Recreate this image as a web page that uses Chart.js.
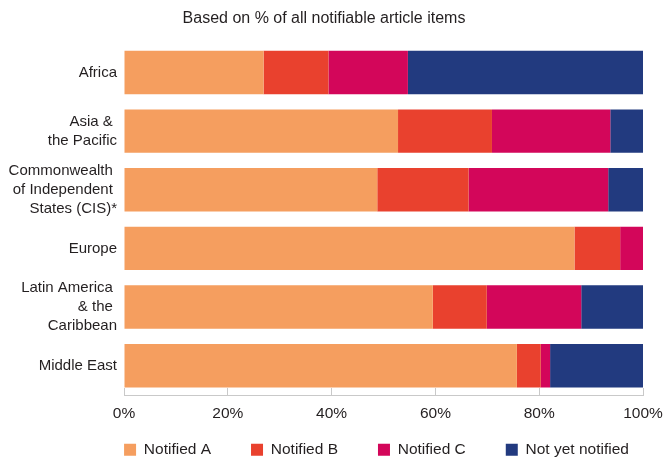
<!DOCTYPE html>
<html>
<head>
<meta charset="utf-8">
<script src="https://cdn.jsdelivr.net/npm/chart.js@4/dist/chart.umd.min.js"></script>
<style>
  html, body { margin: 0; padding: 0; background: #fff; }
  #wrap { width: 665px; height: 462px; }
</style>
</head>
<body>
<div id="wrap"><canvas id="c" width="665" height="462"></canvas></div>
<script>
// Regions, shown top to bottom (multi-line labels as arrays)
const regions = [
  'Africa',
  ['Asia & ', 'the Pacific'],
  ['Commonwealth ', 'of Independent ', 'States (CIS)*'],
  'Europe',
  ['Latin America ', '& the ', 'Caribbean'],
  'Middle East'
];

// Share of notifiable article items (%) per status
const notifiedA = [26.9, 52.8, 48.8, 86.8, 59.5, 75.7];
const notifiedB = [12.5, 18.1, 17.6,  8.8, 10.4,  4.6];
const notifiedC = [15.3, 22.8, 26.9,  4.4, 18.2,  1.8];
const notYet    = [45.3,  6.3,  6.7,  0.0, 11.9, 17.9];

const xTicks = [0, 20, 40, 60, 80, 100];

const FONT = 'Liberation Sans, Arial, Helvetica, sans-serif';
const TEXT = '#231f20';
const AXIS = '#c9c9c9';

// Place the legend row centred under the plot area, just below the tick labels
const legendUnderPlot = {
  id: 'legendUnderPlot',
  beforeDraw(chart) {
    const lg = chart.legend;
    if (!lg) return;
    const ca = chart.chartArea;
    const shift = (ca.left + ca.right) / 2 - 7 - (lg.left + lg.right) / 2;
    lg.left += shift;
    lg.right += shift;
    lg.top = 442 - lg.options.labels.padding;
  }
};

new Chart(document.getElementById('c'), {
  type: 'bar',
  data: {
    labels: regions,
    datasets: [
      { label: 'Notified A', data: notifiedA, backgroundColor: '#f59e5f' },
      { label: 'Notified B', data: notifiedB, backgroundColor: '#e9412e' },
      { label: 'Notified C', data: notifiedC, backgroundColor: '#d3065a' },
      { label: 'Not yet notified', data: notYet, backgroundColor: '#223a7f' }
    ]
  },
  options: {
    indexAxis: 'y',
    responsive: false,
    animation: false,
    devicePixelRatio: 1,
    layout: { padding: { left: 0, right: 17, top: 0, bottom: 0 } },
    datasets: {
      bar: { categoryPercentage: 0.74, barPercentage: 1.0, borderWidth: 0 }
    },
    scales: {
      x: {
        stacked: true,
        min: 0,
        max: 100,
        afterBuildTicks(axis) { axis.ticks = xTicks.map(v => ({ value: v })); },
        afterFit(axis) {
          axis.height = 27;
          // room for the half-width of the "100%" label only
          axis.paddingLeft = 0;
          axis.paddingRight = 22;
        },
        ticks: {
          callback: v => v + '%',
          color: TEXT,
          font: { family: FONT, size: 15.5 },
          padding: 16,
          maxRotation: 0
        },
        // short tick marks pointing up from the axis line
        grid: { drawOnChartArea: false, drawTicks: true, tickLength: -7, color: AXIS, lineWidth: 1 },
        border: { display: true, color: AXIS, width: 1 }
      },
      y: {
        stacked: true,
        afterFit(axis) { axis.width = 124; },
        ticks: {
          autoSkip: false,
          color: TEXT,
          font: { family: FONT, size: 15, lineHeight: 1.27 },
          padding: 7
        },
        grid: { display: false, drawTicks: false },
        border: { display: false }
      }
    },
    plugins: {
      title: {
        display: true,
        text: 'Based on % of all notifiable article items',
        color: TEXT,
        font: { family: FONT, size: 16, weight: 'normal', lineHeight: 1.2 },
        padding: { top: 9, bottom: 15 }
      },
      legend: {
        position: 'bottom',
        maxHeight: 40,
        labels: {
          color: TEXT,
          font: { family: FONT, size: 15.5 },
          boxWidth: 12,
          boxHeight: 12,
          padding: 40
        }
      },
      tooltip: { enabled: false }
    }
  },
  plugins: [legendUnderPlot]
});
</script>
</body>
</html>
